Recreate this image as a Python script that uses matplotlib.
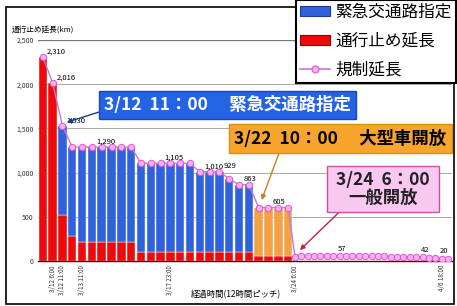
import numpy as np
import matplotlib.pyplot as plt
from matplotlib.patches import Patch, Rectangle
from matplotlib.lines import Line2D

plt.rcParams['font.family'] = ['Noto Sans CJK JP', 'DejaVu Sans']

# ----------------------------
# data
# ----------------------------
# 12-hour steps up to 3/24 6:00
total_km = [2310, 2016, 1530, 1290, 1290, 1290, 1290, 1290, 1290, 1290,
            1105, 1105, 1105, 1105, 1105, 1105, 1010, 1010, 1010, 929,
            863, 863, 605, 605, 605, 605]
closed_km = [2310, 2016, 520, 280, 215, 215, 215, 215, 215, 215,
             100, 100, 100, 100, 100, 100, 100, 100, 100, 100,
             100, 100, 60, 60, 60, 60]
n_emergency = 22          # bars before 3/22 10:00 (blue), the rest orange

# after general opening
after_km = [50, 52, 54, 55, 55, 56, 56, 57, 56, 55, 55, 54, 53,
            52, 52, 50, 48, 47, 45, 44, 42, 38, 32, 26, 20]

bar_labels = [(0, '2,310'), (1, '2,016'), (2, '1,530'), (5, '1,290'),
              (12, '1,105'), (16, '1,010'), (18, '929'), (20, '863'),
              (23, '605')]
after_labels = [(6, '57'), (19, '42'), (22, '20')]

bar_ticks = [1, 2, 4, 13]
bar_tick_text = ['3/12 6:00', '3/12 11:00', '3/13 11:00', '3/17 23:00']
after_ticks = [0, 23]
after_tick_text = ['3/24 6:00', '4/6 18:00']

legend_text = ['緊急交通路指定', '通行止め延長', '規制延長']

# ----------------------------
# colours
# ----------------------------
blue = '#2f62dc'
red = '#ee0a0a'
orange = '#f2a245'
line_c = '#c07ad8'
mk_face = '#f9aef2'
mk_edge = '#dc58cc'

fig = plt.figure(figsize=(4.57, 3.06), dpi=100)
ax = fig.add_axes([0.083, 0.147, 0.906, 0.722])

x_bar = np.arange(len(total_km))
x_after = len(total_km) - 0.3 + 0.65 * np.arange(len(after_km))

upper = np.array(total_km) - np.array(closed_km)
cols = [blue] * n_emergency + [orange] * (len(total_km) - n_emergency)

ax.bar(x_bar, closed_km, width=0.86, color=red, edgecolor='white', linewidth=0.3, zorder=2)
ax.bar(x_bar, upper, bottom=closed_km, width=0.86, color=cols, edgecolor='white', linewidth=0.3, zorder=2)

xs = np.concatenate([x_bar, x_after])
ys = np.concatenate([total_km, after_km])
ax.plot(xs, ys, color=line_c, lw=1.0, marker='o', ms=4.6, mfc=mk_face, mec=mk_edge, mew=0.7, zorder=3)

for i, t in bar_labels:
    ax.annotate(t, (x_bar[i], total_km[i]), xytext=(3, 4), textcoords='offset points',
                fontsize=5.5, ha='left', va='center', zorder=4)
for i, t in after_labels:
    ax.annotate(t, (x_after[i], after_km[i]), xytext=(3, 5), textcoords='offset points',
                fontsize=5.5, ha='left', va='center', zorder=4)

ax.set_xlim(-0.5, 41.7)
ax.set_ylim(0, 2500)
ax.set_yticks(range(0, 2501, 500))
ax.set_yticklabels(['0', '500', '1,000', '1,500', '2,000', '2,500'], fontsize=5, color='#333333')
ax.grid(axis='y', color='#aaaaaa', lw=0.7, zorder=0)
ax.set_axisbelow(True)
ax.axhline(2500, color='#777777', lw=0.9)

tick_pos = list(x_bar[bar_ticks]) + list(x_after[after_ticks])
ax.set_xticks(tick_pos)
ax.set_xticklabels(bar_tick_text + after_tick_text, rotation=90, fontsize=4.5, color='#333333')
ax.tick_params(length=0, pad=3)
for s in ['top', 'right', 'left']:
    ax.spines[s].set_visible(False)
ax.spines['bottom'].set_color('#550000')
ax.spines['bottom'].set_linewidth(1.0)

fig.text(0.026, 0.902, '通行止め延長(km)', fontsize=5.5, ha='left', va='center')
fig.text(0.516, 0.036, '経過時間(12時間ピッチ)', fontsize=6, ha='center', va='center')

# event boxes
ax.annotate('3/12  11：00　 緊急交通路指定', xy=(2.45, 1570), xycoords='data',
            xytext=(0.498, 0.657), textcoords='figure fraction',
            ha='center', va='center', fontsize=12.5, fontweight='bold', color='white',
            bbox=dict(boxstyle='square,pad=0.28', fc='#2563e6', ec='#1c46b0', lw=1),
            arrowprops=dict(arrowstyle='-|>', color='#1a3a8a', lw=1.0, relpos=(0, 0.2),
                            shrinkA=0, shrinkB=0, mutation_scale=7),
            zorder=6, annotation_clip=False)

ax.annotate('3/22  10：00　 大型車開放', xy=(22.3, 690), xycoords='data',
            xytext=(0.745, 0.547), textcoords='figure fraction',
            ha='center', va='center', fontsize=12.5, fontweight='bold', color='black',
            bbox=dict(boxstyle='square,pad=0.3', fc='#f7a52c', ec='#e08a10', lw=1),
            arrowprops=dict(arrowstyle='-|>', color='#d07a20', lw=1.0, relpos=(0.22, 0),
                            shrinkA=0, shrinkB=0, mutation_scale=7),
            zorder=6, annotation_clip=False)

ax.annotate(' 3/24  6：00 \n一般開放', xy=(26.2, 124), xycoords='data',
            xytext=(0.838, 0.382), textcoords='figure fraction',
            ha='center', va='center', fontsize=12.5, fontweight='bold', color='#222222',
            linespacing=1.0, multialignment='center',
            bbox=dict(boxstyle='square,pad=0.3', fc='#f8c8f0', ec='#d0509e', lw=1),
            arrowprops=dict(arrowstyle='-|>', color='#c02050', lw=1.0, relpos=(0.12, 0),
                            shrinkA=0, shrinkB=0, mutation_scale=7),
            zorder=6, annotation_clip=False)

# outer frame
fig.patches.append(Rectangle((0.013, 0.007), 0.98, 0.97, transform=fig.transFigure,
                             fill=False, ec='black', lw=1.2, zorder=0))

handles = [Patch(fc=blue, ec='#1c3c90', lw=0.8),
           Patch(fc=red, ec='#900000', lw=0.8),
           Line2D([], [], color=line_c, lw=1.2, marker='o', ms=5, mfc=mk_face, mec=mk_edge, mew=0.8)]
leg = fig.legend(handles, legend_text, loc='lower right', bbox_to_anchor=(0.997, 0.73),
                 fontsize=12, frameon=True, fancybox=False, edgecolor='black', framealpha=1,
                 handlelength=1.8, handleheight=0.55, labelspacing=0.7, borderpad=0.25,
                 handletextpad=0.3, borderaxespad=0)
leg.get_frame().set_linewidth(1.5)

fig.savefig('out.png', dpi=100)
